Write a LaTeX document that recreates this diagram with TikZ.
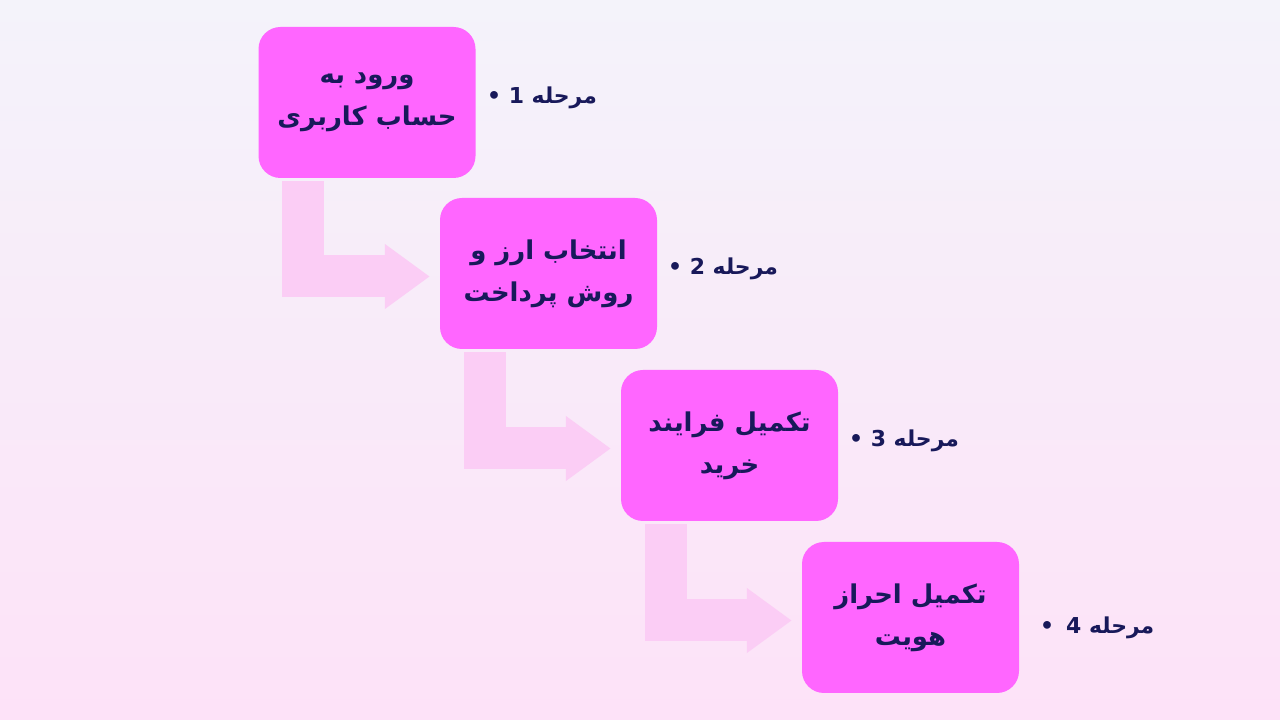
\documentclass[tikz,border=0pt]{standalone}
\usepackage{fontspec}
\newfontfamily\fafont[Script=Arabic]{DejaVu Sans}
\TeXXeTstate=1
\usetikzlibrary{arrows.meta}

\definecolor{bgtop}{HTML}{F4F3FA}
\definecolor{bgbot}{HTML}{FDE2F8}
\definecolor{boxpink}{HTML}{FF66FF}
\definecolor{flowpink}{HTML}{FBCDF5}
\definecolor{navy}{HTML}{18195A}

\newcommand\fa[1]{{\fafont\bfseries\beginR #1\endR}}

\tikzset{
  stepbox/.style={fill=boxpink,draw=none,rounded corners=22bp,minimum width=217bp,
    minimum height=151bp,inner sep=0pt,align=center,text=navy,
    font=\fontsize{26}{42}\selectfont},
  steplab/.style={anchor=west,text=navy,inner sep=0pt,font=\fontsize{22}{25}\selectfont},
  flow/.style={draw=flowpink,line width=42bp,line join=miter,shorten <=3bp,shorten >=10bp,
    -{Triangle[length=45bp,width=62bp]}},
}

\begin{document}
\begin{tikzpicture}
\shade[top color=bgtop,bottom color=bgbot] (0bp,0bp) rectangle (1280bp,720bp);
\useasboundingbox (0bp,0bp) rectangle (1280bp,720bp);
%%
\node (step1) at (367bp,617.5bp) [stepbox] {\fa{ورود به}\\\fa{حساب کاربری}};
  \node (step2) at (548.5bp,446.5bp) [stepbox] {\fa{انتخاب ارز و}\\\fa{روش پرداخت}};
  \node (step3) at (729.5bp,274.5bp) [stepbox] {\fa{تکمیل فرایند}\\\fa{خرید}};
  \node (step4) at (910.5bp,102.5bp) [stepbox] {\fa{تکمیل احراز}\\\fa{هویت}};
  \node (lab1) at (487bp,622bp) [steplab] {\fa{مرحله 1 •}};
  \node (lab2) at (668bp,451bp) [steplab] {\fa{مرحله 2 •}};
  \node (lab3) at (849bp,279bp) [steplab] {\fa{مرحله 3 •}};
  \node (lab4) at (1040bp,92bp) [steplab] {\fa{مرحله 4\hspace{12bp}•}};
  \draw [flow] ([xshift=45bp]step1.south west) |- ([yshift=-3bp]step2.west);
  \draw [flow] ([xshift=45bp]step2.south west) |- ([yshift=-3bp]step3.west);
  \draw [flow] ([xshift=45bp]step3.south west) |- ([yshift=-3bp]step4.west);
%
\end{tikzpicture}
\end{document}
